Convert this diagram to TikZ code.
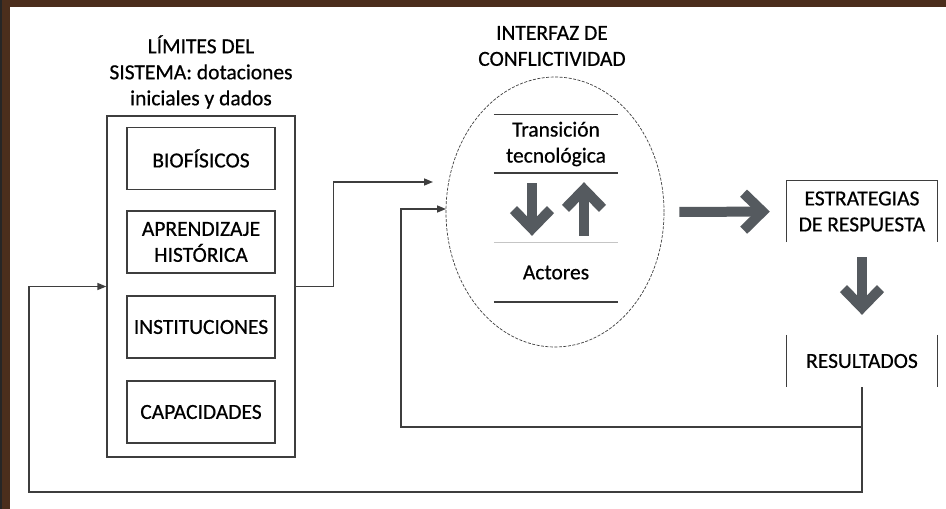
\documentclass[tikz,border=0pt]{standalone}
\usepackage{fontspec}
\setmainfont{Carlito}[FakeBold=0.6]
\usetikzlibrary{arrows.meta,shapes.geometric}
\definecolor{brownb}{RGB}{75,46,28}
\definecolor{lin}{RGB}{62,62,62}
\definecolor{thk}{RGB}{85,90,95}
\begin{document}
\begin{tikzpicture}[x=1pt,y=-1pt,
  lbl/.style={font=\fontsize{21.5}{26}\selectfont, align=center, inner sep=0pt},
  box/.style={lbl, draw=lin, line width=1.2pt, minimum width=148pt, minimum height=62pt},
  conn/.style={draw=lin, line width=1.5pt},
  tip/.style={-{Triangle[length=9pt,width=7pt]}},
  big/.style={draw=thk, line width=10pt, -{Straight Barb[length=19pt,width=37pt]}}]
% background and frame
\fill[white] (0,0) rectangle (946,509);
\fill[brownb] (0,0) rectangle (946,7);
\fill[brownb] (0,0) rectangle (10,509);
\fill[black!85] (0,0) rectangle (2,509);
\useasboundingbox (0,0) rectangle (946,509);
% titles
\node[lbl] (limt) at (201,72) {LÍMITES DEL\\SISTEMA: dotaciones\\iniciales y dados};
\node[lbl] (intt) at (552,46) {INTERFAZ DE\\CONFLICTIVIDAD};
% system box
\node[draw=lin, line width=1.3pt, minimum width=188pt, minimum height=341pt, inner sep=0pt] (sys) at (201,286.5) {};
\node[box] (bio) at (201,158.5) {BIOFÍSICOS};
\node[box] (apr) at (201,242) {APRENDIZAJE\\HISTÓRICA};
\node[box] (ins) at (201,327) {INSTITUCIONES};
\node[box] (cap) at (201,412) {CAPACIDADES};
% interface ellipse
\node[ellipse, draw=lin, line width=0.7pt, dash pattern=on 3pt off 1.5pt, minimum width=218pt, minimum height=270pt, inner sep=0pt] (ell) at (555,212) {};
\node[lbl, minimum width=124pt, minimum height=58pt] (tra) at (556,144) {Transición\\tecnológica};
\draw[lin, line width=0.9pt] (tra.north west) -- (tra.north east);
\draw[lin, line width=1.6pt] (tra.south west) -- (tra.south east);
\node[lbl, minimum width=124pt, minimum height=59pt] (act) at (556,272.5) {Actores};
\draw[lin!30, line width=0.9pt] (act.north west) -- (act.north east);
\draw[lin, line width=1.6pt] (act.south west) -- (act.south east);
% right side
\node[lbl, minimum width=150pt, minimum height=61pt] (est) at (862,211.5) {ESTRATEGIAS\\DE RESPUESTA};
\draw[lin, line width=1.2pt] (est.south west) -- (est.north west) -- (est.north east) -- (est.south east);
\node[lbl, minimum width=150pt, minimum height=52pt] (res) at (862,361) {RESULTADOS};
\draw[lin, line width=1.2pt] (res.north west) -- (res.south west);
\draw[lin, line width=1.2pt] (res.north east) -- (res.south east);
% thick arrows
\draw[big] ([xshift=-24pt,yshift=-10pt]tra.south) -- ([xshift=-24pt,yshift=7pt]act.north);
\draw[big] ([xshift=28pt,yshift=7pt]act.north) -- ([xshift=28pt,yshift=-9pt]tra.south);
\draw[big, shorten <=15pt, shorten >=17pt] (ell.east) -- (est.west);
\draw[big, shorten <=15pt, shorten >=20pt] (est.south) -- (res.north);
% connectors
\coordinate (in1) at (433,182);
\coordinate (in2) at (446,209);
\coordinate (c1) at (401,427);
\coordinate (c2) at (29,492);
\draw[conn, tip] (sys.east) -- ++(38,0) |- (in1);
\draw[conn, tip] (res.south) |- (c1) |- (in2);
\draw[conn, tip] (res.south) |- (c2) |- (sys.west);
\end{tikzpicture}
\end{document}
